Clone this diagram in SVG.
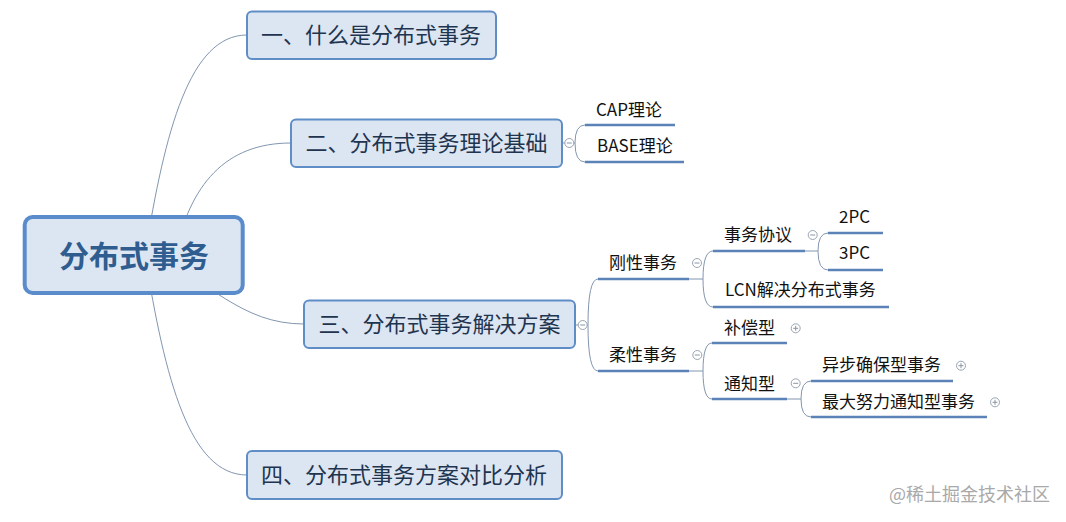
<svg xmlns="http://www.w3.org/2000/svg" width="1066" height="522" viewBox="0 0 1066 522">
<style>
.conn{fill:none;stroke:#8296b0;stroke-width:1}
.ul{fill:none;stroke:#5b83b8;stroke-width:2.5}
.box{fill:#dce6f2;stroke:#5f8dc6;stroke-width:2}
.mt{font-family:"Noto Sans CJK SC","Microsoft YaHei",sans-serif;font-size:22px;fill:#1f344f;text-anchor:middle}
.ct{font-family:"Noto Sans CJK SC","Microsoft YaHei",sans-serif;font-size:17px;fill:#111}
.tg circle{fill:#fff;stroke:#9aa5b2;stroke-width:1}
.tg path{stroke:#8a96a4;stroke-width:1;fill:none}
</style>
<rect width="1066" height="522" fill="#fff"/>
<g id="connectors">
<path class="conn" d="M145 255 C165 130 190 35 247 35"/>
<path class="conn" d="M175 255 C190 185 225 143 291 143"/>
<path class="conn" d="M150 255 C210 280 240 324 304 324"/>
<path class="conn" d="M145 255 C165 380 190 475 247 475"/>
<path class="conn" d="M562 143 H575 M575 143 Q575 125 585 125 M575 143 Q575 162 585 162"/>
<path class="conn" d="M575 325 H588 M588 325 Q588 279 598 279 M588 325 Q588 371 598 371"/>
<path class="conn" d="M689 279 H703 M703 279 Q703 251 713 251 M703 279 Q703 307 713 307"/>
<path class="conn" d="M805 251 H818 M818 251 Q818 233 828 233 M818 251 Q818 270 828 270"/>
<path class="conn" d="M689 371 H703 M703 371 Q703 343 712 343 M703 371 Q703 399 712 399"/>
<path class="conn" d="M787 399 H801 M801 399 Q801 381 811 381 M801 399 Q801 417 811 417"/>
</g>
<g id="root">
<rect x="24.7" y="217" width="218" height="76" rx="8" fill="#dce6f2" stroke="#5a8ccb" stroke-width="4"/>
<text x="134" y="267" font-family="Noto Sans CJK SC,Microsoft YaHei,sans-serif" font-size="30" font-weight="bold" fill="#2f5d90" text-anchor="middle">分布式事务</text>
</g>
<g id="n1"><rect class="box" x="247" y="11.5" width="249" height="47.5" rx="5"/><text class="mt" x="371" y="43">一、什么是分布式事务</text></g>
<g id="n2"><rect class="box" x="291" y="119.5" width="271" height="47.5" rx="5"/><text class="mt" x="426.5" y="151">二、分布式事务理论基础</text>
<g class="tg"><circle cx="569.3" cy="143" r="4.5"/><path d="M566.8 143 H571.8"/></g></g>
<g id="n3"><rect class="box" x="304" y="300.5" width="271" height="47.5" rx="5"/><text class="mt" x="439.5" y="332">三、分布式事务解决方案</text>
<g class="tg"><circle cx="582.7" cy="325" r="4.5"/><path d="M580.2 325 H585.2"/></g></g>
<g id="n4"><rect class="box" x="247" y="451" width="315" height="48" rx="5"/><text class="mt" x="404" y="483">四、分布式事务方案对比分析</text></g>
<g id="cap"><path class="ul" d="M585 125 H675"/><text class="ct" x="596" y="115.5">CAP理论</text></g>
<g id="base"><path class="ul" d="M585 162 H684"/><text class="ct" x="597" y="152">BASE理论</text></g>
<g id="gang"><path class="ul" d="M598 279 H689"/><text class="ct" x="609" y="269">刚性事务</text>
<g class="tg"><circle cx="697" cy="263" r="4.5"/><path d="M694.5 263 H699.5"/></g></g>
<g id="xieyi"><path class="ul" d="M713 251 H805"/><text class="ct" x="724" y="241">事务协议</text>
<g class="tg"><circle cx="812.7" cy="235" r="4.5"/><path d="M810.2 235 H815.2"/></g></g>
<g id="pc2"><path class="ul" d="M828 233 H883"/><text class="ct" x="839" y="223">2PC</text></g>
<g id="pc3"><path class="ul" d="M828 270 H883"/><text class="ct" x="839" y="259">3PC</text></g>
<g id="lcn"><path class="ul" d="M713 307 H889"/><text class="ct" x="725" y="296">LCN解决分布式事务</text></g>
<g id="rou"><path class="ul" d="M598 371 H689"/><text class="ct" x="609" y="361">柔性事务</text>
<g class="tg"><circle cx="697.3" cy="355" r="4.5"/><path d="M694.8 355 H699.8"/></g></g>
<g id="buchang"><path class="ul" d="M712 343 H787"/><text class="ct" x="724" y="334">补偿型</text>
<g class="tg"><circle cx="795.7" cy="328.3" r="4.5"/><path d="M793.2 328.3 H798.2 M795.7 325.8 V330.8"/></g></g>
<g id="tongzhi"><path class="ul" d="M712 399 H787"/><text class="ct" x="724" y="390">通知型</text>
<g class="tg"><circle cx="795.7" cy="383.3" r="4.5"/><path d="M793.2 383.3 H798.2"/></g></g>
<g id="yibu"><path class="ul" d="M811 381 H953"/><text class="ct" x="822" y="371">异步确保型事务</text>
<g class="tg"><circle cx="961" cy="365.7" r="4.5"/><path d="M958.5 365.7 H963.5 M961 363.2 V368.2"/></g></g>
<g id="zuida"><path class="ul" d="M811 417 H987"/><text class="ct" x="822" y="408">最大努力通知型事务</text>
<g class="tg"><circle cx="995" cy="402.3" r="4.5"/><path d="M992.5 402.3 H997.5 M995 399.8 V404.8"/></g></g>
<text x="889" y="501" font-family="Noto Sans CJK SC,sans-serif" font-size="18" fill="#a9a9a9">@稀土掘金技术社区</text>
</svg>
